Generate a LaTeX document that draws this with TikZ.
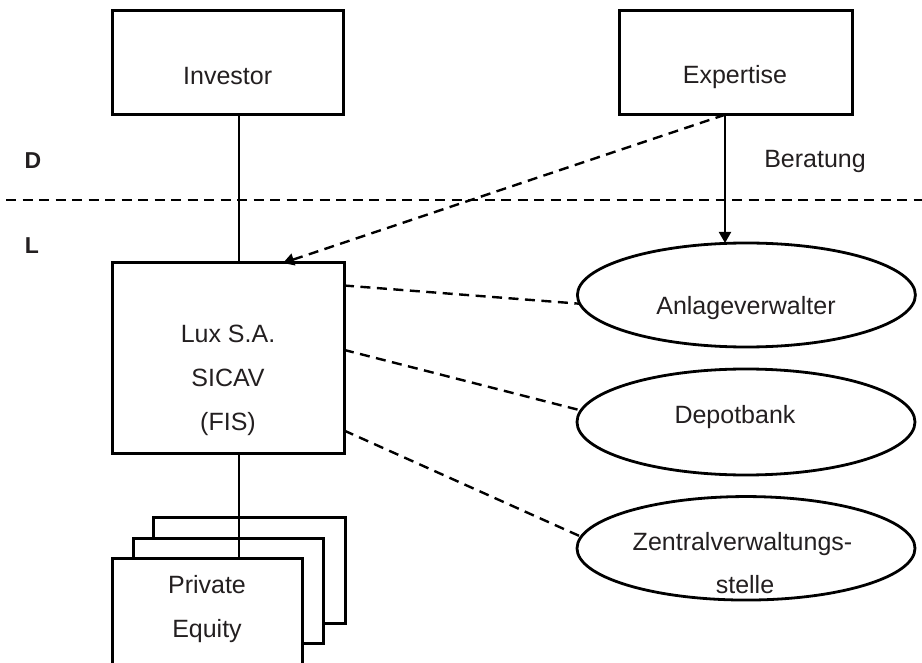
\documentclass[tikz,border=0pt]{standalone}
\usepackage{fontspec}
\setmainfont{Liberation Sans}
\usetikzlibrary{arrows.meta,shapes.geometric}
\definecolor{txtc}{RGB}{35,31,32}
\begin{document}
\begin{tikzpicture}[x=1pt,y=-1pt,
  boxsh/.style={draw, line width=3pt, fill=white, inner sep=0pt, outer sep=0pt},
  oval/.style={ellipse, draw, line width=2.8pt, inner sep=0pt, outer sep=0pt, minimum width=338pt},
  txt/.style={anchor=base, inner sep=0pt, text=txtc, font=\fontsize{25}{30}\selectfont},
  lbl/.style={anchor=base, inner sep=0pt, text=txtc, font=\fontsize{23}{28}\selectfont\bfseries},
  link/.style={line width=2pt},
  dashlink/.style={line width=2.4pt, dash pattern=on 10pt off 6.5pt},
  tip/.style={-{Triangle[length=11pt,width=12pt]}}]
\useasboundingbox (0,0) rectangle (922,663);
\clip (0,0) rectangle (922,663);

% top boxes
\node[boxsh, minimum width=231pt, minimum height=104pt] (inv) at (227.7,63) {};
\node[txt] (invt) at (227.7,85) {Investor};
\node[boxsh, minimum width=233pt, minimum height=104.5pt] (exp) at (735.5,62.5) {};
\node[txt] (expt) at (735,84) {Expertise};

% country labels
\node[lbl] (dl) at (33,169) {D};
\node[lbl] (ll) at (32,254) {L};
\node[txt] (ber) at (815,168) {Beratung};

% Lux box
\node[boxsh, minimum width=232pt, minimum height=190pt] (lux) at (228,358) {};
\node[txt] (lux1) at (228,343) {Lux S.A.};
\node[txt] (lux2) at (228,387) {SICAV};
\node[txt] (lux3) at (228,430) {(FIS)};

% ellipses
\node[oval, minimum height=104pt] (anl) at (746.4,295) {};
\node[txt] (anlt) at (746,315) {Anlageverwalter};
\node[oval, minimum height=106pt] (dep) at (746,422) {};
\node[txt] (dept) at (735,423) {Depotbank};
\node[oval, minimum height=103.5pt] (zen) at (746,548.3) {};
\node[txt] (zen1) at (742.5,550) {Zentralverwaltungs-};
\node[txt] (zen2) at (745,593) {stelle};

% private equity stack
\node[boxsh, minimum width=192pt, minimum height=106pt] (pe3) at (249,570) {};
\node[boxsh, minimum width=190pt, minimum height=105pt] (pe2) at (228,590.5) {};
\node[boxsh, minimum width=190pt, minimum height=140pt] (pe1) at (207,628) {};
\node[txt] (pe1a) at (207,593) {Private};
\node[txt] (pe1b) at (207,637) {Equity};

% helper coordinates
\coordinate (vx) at (238.5,0);
\coordinate (ax) at (725,0);
\coordinate (hx) at (283,0);
\coordinate (hl) at (6,200);
\coordinate (hr) at (922,200);

% connectors
\draw[dashlink] (hl) -- (hr);
\draw[link] (inv.south -| vx) -- (lux.north -| vx);
\draw[link] (lux.south -| vx) -- (pe1.north -| vx);
\draw[link,tip] (exp.south -| ax) -- (anl.north -| ax);
\draw[dashlink,tip] (exp.south -| ax) -- (lux.north -| hx);
\draw[dashlink] (lux.32.5) -- (anl.183.5);
\draw[dashlink] (lux.4.9) -- (dep.176.8);
\draw[dashlink] (lux.-32.9) -- (zen.176.5);
\end{tikzpicture}
\end{document}
